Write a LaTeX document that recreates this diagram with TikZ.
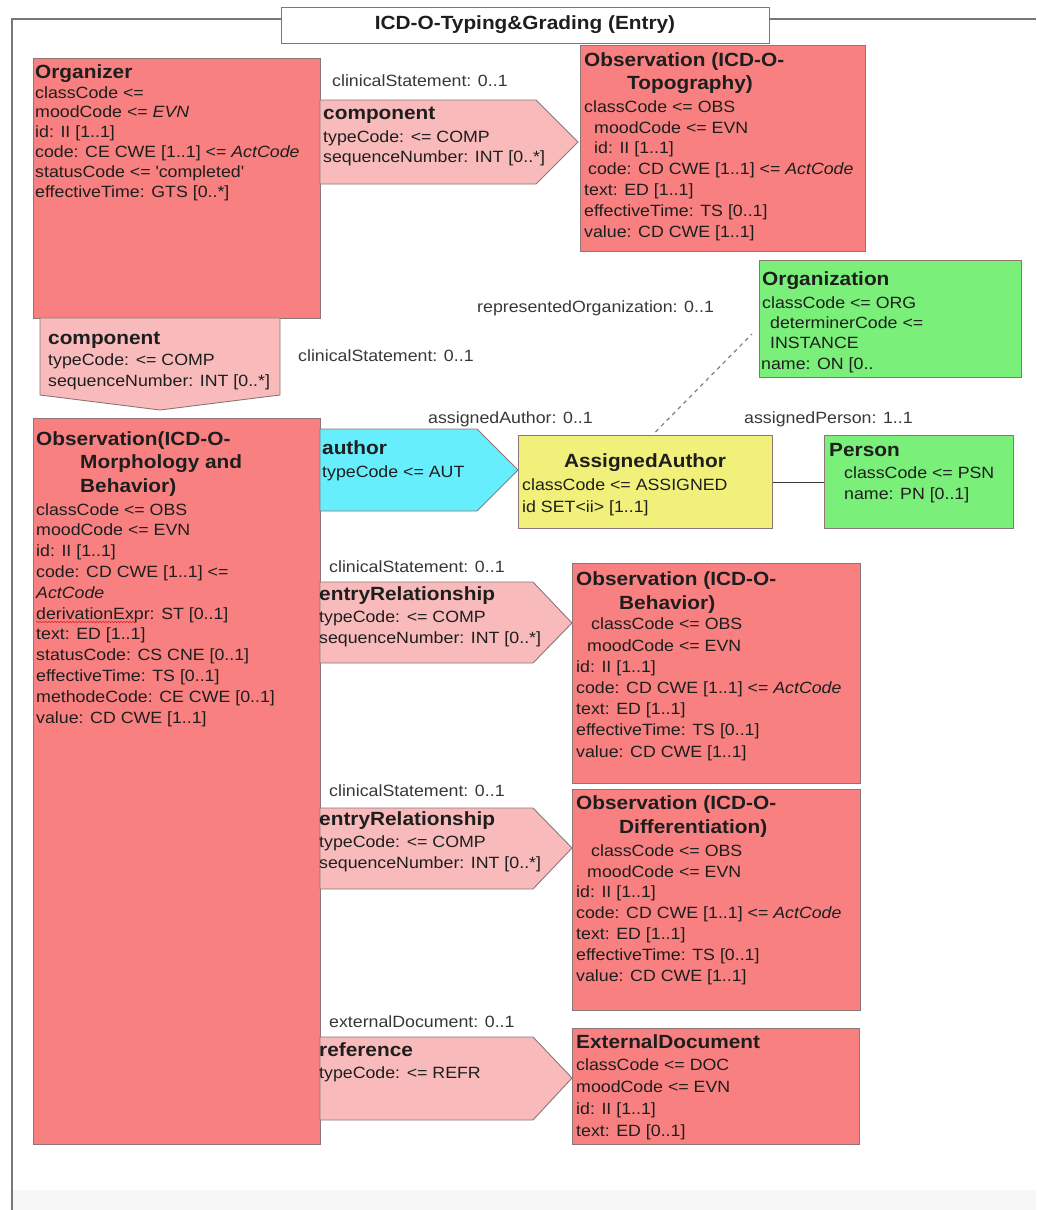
\documentclass[tikz,border=0pt]{standalone}
\usepackage{fontspec}
\setmainfont{Liberation Sans}[FakeStretch=1.09]
\usepackage{xcolor}
\definecolor{actred}{RGB}{248,128,128}
\definecolor{relpink}{RGB}{248,186,186}
\definecolor{partcyan}{RGB}{102,238,252}
\definecolor{roleyellow}{RGB}{240,240,122}
\definecolor{entgreen}{RGB}{122,240,122}
\definecolor{edgegray}{RGB}{140,118,118}
\definecolor{inkgray}{RGB}{30,30,30}
\definecolor{lblgray}{RGB}{55,55,55}
\definecolor{framegray}{RGB}{120,120,120}
\definecolor{bandgray}{RGB}{247,247,247}
\definecolor{spellred}{RGB}{220,40,40}
\usepackage{tikz}
\usetikzlibrary{positioning, decorations.pathmorphing}

\begin{document}
\begin{tikzpicture}[x=1pt, y=-1pt,
  cbox/.style={rectangle, draw=edgegray, line width=0.9pt, fill=#1, anchor=north west, inner sep=0pt},
  rel/.style={draw=edgegray, line width=0.9pt, fill=#1},
  ttl/.style={anchor=base west, inner sep=0pt, align=left, text=inkgray, font=\fontsize{19.1}{#1}\selectfont\bfseries},
  ttl/.default=23.3,
  det/.style={anchor=base west, inner sep=0pt, align=left, text=inkgray, font=\fontsize{16.3}{#1}\selectfont},
  det/.default=20.8,
  lbl/.style={anchor=base west, inner sep=0pt, text=lblgray, font=\fontsize{16.3}{20}\selectfont},
  lnk/.style={draw=lblgray, line width=0.9pt},
  dashlnk/.style={draw=gray, line width=1.2pt, dash pattern=on 4pt off 4pt}
]
\useasboundingbox (0,0) rectangle (1036,1210);

% frame and header (text nodes below sit on the baseline of their last line)
\fill[bandgray] (12,1190) rectangle (1036,1210);
\draw[framegray, line width=1.2pt] (281,19) -- (12,19) -- (12,1212);
\draw[framegray, line width=1.2pt] (769,19) -- (1036,19);
\node[draw=framegray, line width=0.9pt, fill=white, minimum width=488pt, minimum height=36pt, inner sep=0pt,
      text=inkgray, font=\fontsize{19.1}{22}\selectfont\bfseries] (hdr) at (525,25) {ICD-O-Typing\&Grading (Entry)};

% Organizer
\node[cbox=actred, minimum width=287pt, minimum height=260pt] (org) at (33,58) {};
\node[ttl] (org-t) at (35,78) {Organizer};
\node[det=19.8] (org-d) at (35,197) {classCode <=\\moodCode <= \textit{EVN}\\id: II [1..1]\\code: CE CWE [1..1] <= \textit{ActCode}\\statusCode <= \textquotesingle completed\textquotesingle\\effectiveTime: GTS [0..*]};

% component (to topography)
\path[rel=relpink] (320,100) -- (536,100) -- (578,142) -- (536,184) -- (320,184) -- cycle;
\node[lbl] (cs1) at (332,86) {clinicalStatement: 0..1};
\node[ttl] (comp1-t) at (323,119) {component};
\node[det=20] (comp1-d) at (323,162) {typeCode: <= COMP\\sequenceNumber: INT [0..*]};

% Observation (Topography)
\node[cbox=actred, minimum width=285pt, minimum height=206pt] (topo) at (580,45) {};
\node[ttl=23] (topo-t) at (584,89) {Observation (ICD-O-\\\hspace*{43pt}Topography)};
\node[det] (topo-d) at (584,237) {classCode <= OBS\\\hspace*{10pt}moodCode <= EVN\\\hspace*{10pt}id: II [1..1]\\\hspace*{4pt}code: CD CWE [1..1] <= \textit{ActCode}\\text: ED [1..1]\\effectiveTime: TS [0..1]\\value: CD CWE [1..1]};

% component (down to morphology)
\path[rel=relpink] (40,318) -- (280,318) -- (280,395) -- (160,410) -- (40,395) -- cycle;
\node[ttl] (comp2-t) at (48,344) {component};
\node[det=21] (comp2-d) at (48,386) {typeCode: <= COMP\\sequenceNumber: INT [0..*]};
\node[lbl] (cs2) at (298,361) {clinicalStatement: 0..1};

% Organization
\node[cbox=entgreen, minimum width=262pt, minimum height=117pt] (orgn) at (759,260) {};
\node[ttl] (orgn-t) at (762,285) {Organization};
\node[det=20.3] (orgn-d) at (761,369) {\hspace*{1pt}classCode <= ORG\\\hspace*{9pt}determinerCode <=\\\hspace*{9pt}INSTANCE\\name: ON [0..};
\node[lbl] (ro) at (477,312) {representedOrganization: 0..1};

% Observation (Morphology and Behavior)
\node[cbox=actred, minimum width=287pt, minimum height=726pt] (morph) at (33,418) {};
\node[ttl] (morph-t) at (36,492) {Observation(ICD-O-\\\hspace*{44pt}Morphology and\\\hspace*{44pt}Behavior)};
\node[det] (morph-d) at (36,723) {classCode <= OBS\\moodCode <= EVN\\id: II [1..1]\\code: CD CWE [1..1] <=\\\textit{ActCode}\\derivationExpr: ST [0..1]\\text: ED [1..1]\\statusCode: CS CNE [0..1]\\effectiveTime: TS [0..1]\\methodeCode: CE CWE [0..1]\\value: CD CWE [1..1]};
\draw[spellred, line width=0.6pt, decorate, decoration={snake, amplitude=0.7pt, segment length=3pt}] (36,622) -- (136,622);

% author
\path[rel=partcyan] (320,429) -- (477,429) -- (518,470) -- (477,511) -- (320,511) -- cycle;
\node[ttl] (aut-t) at (322,454) {author};
\node[det] (aut-d) at (322,477) {typeCode <= AUT};
\node[lbl] (aa-r) at (428,423) {assignedAuthor: 0..1};

% AssignedAuthor
\node[cbox=roleyellow, minimum width=254pt, minimum height=93pt] (aa) at (518,435) {};
\node[ttl, anchor=base] (aa-t) at (645,467) {AssignedAuthor};
\node[det=22] (aa-d) at (522,512) {classCode <= ASSIGNED\\id SET<ii> [1..1]};

% Person
\node[cbox=entgreen, minimum width=189pt, minimum height=93pt] (psn) at (824,435) {};
\node[ttl] (psn-t) at (829,456) {Person};
\node[det=21] (psn-d) at (844,499) {classCode <= PSN\\name: PN [0..1]};
\node[lbl] (ap) at (744,423) {assignedPerson: 1..1};

\draw[lnk] (aa.east) -- (psn.west);
\draw[dashlnk] ([xshift=10pt,yshift=3pt]aa.north) -- ([xshift=-7pt,yshift=-15pt]orgn.west);

% entryRelationship (behavior)
\path[rel=relpink] (320,582) -- (533,582) -- (572,623) -- (533,663) -- (320,663) -- cycle;
\node[lbl] (cs3) at (329,572) {clinicalStatement: 0..1};
\node[ttl] (er1-t) at (319,600) {entryRelationship};
\node[det=21] (er1-d) at (319,643) {typeCode: <= COMP\\sequenceNumber: INT [0..*]};

% Observation (Behavior)
\node[cbox=actred, minimum width=288pt, minimum height=220pt] (behav) at (572,563) {};
\node[ttl=24] (behav-t) at (576,609) {Observation (ICD-O-\\\hspace*{43pt}Behavior)};
\node[det=21.2] (behav-d) at (576,757) {\hspace*{15pt}classCode <= OBS\\\hspace*{11pt}moodCode <= EVN\\id: II [1..1]\\code: CD CWE [1..1] <= \textit{ActCode}\\text: ED [1..1]\\effectiveTime: TS [0..1]\\value: CD CWE [1..1]};

% entryRelationship (differentiation)
\path[rel=relpink] (320,808) -- (533,808) -- (572,848) -- (533,889) -- (320,889) -- cycle;
\node[lbl] (cs4) at (329,796) {clinicalStatement: 0..1};
\node[ttl] (er2-t) at (319,825) {entryRelationship};
\node[det=21] (er2-d) at (319,868) {typeCode: <= COMP\\sequenceNumber: INT [0..*]};

% Observation (Differentiation)
\node[cbox=actred, minimum width=288pt, minimum height=221pt] (diff) at (572,789) {};
\node[ttl=24] (diff-t) at (576,833) {Observation (ICD-O-\\\hspace*{43pt}Differentiation)};
\node[det] (diff-d) at (576,981) {\hspace*{15pt}classCode <= OBS\\\hspace*{11pt}moodCode <= EVN\\id: II [1..1]\\code: CD CWE [1..1] <= \textit{ActCode}\\text: ED [1..1]\\effectiveTime: TS [0..1]\\value: CD CWE [1..1]};

% reference
\path[rel=relpink] (320,1037) -- (533,1037) -- (572,1078) -- (533,1120) -- (320,1120) -- cycle;
\node[lbl] (ed) at (329,1027) {externalDocument: 0..1};
\node[ttl] (ref-t) at (319,1056) {reference};
\node[det] (ref-d) at (319,1078) {typeCode: <= REFR};

% ExternalDocument
\node[cbox=actred, minimum width=287pt, minimum height=116pt] (extdoc) at (572,1028) {};
\node[ttl] (extdoc-t) at (576,1048) {ExternalDocument};
\node[det=21.7] (extdoc-d) at (576,1136) {classCode <= DOC\\moodCode <= EVN\\id: II [1..1]\\text: ED [0..1]};
\end{tikzpicture}
\end{document}
